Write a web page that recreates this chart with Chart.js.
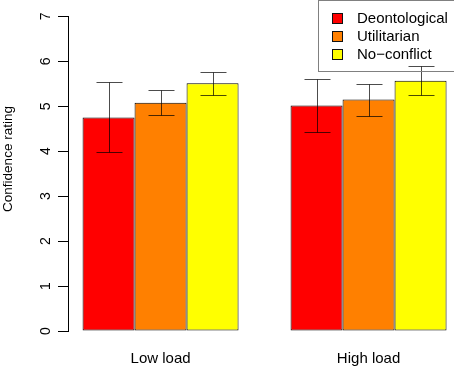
<!DOCTYPE html>
<html>
<head>
<meta charset="utf-8">
<script src="https://cdn.jsdelivr.net/npm/chart.js@4.4.1/dist/chart.umd.min.js"></script>
<style>
html,body{margin:0;padding:0;background:#fff;overflow:hidden}
#wrap{width:454px;height:367px;position:relative}
</style>
</head>
<body>
<div id="wrap"><canvas id="c" width="454" height="367"></canvas></div>
<script>
// ---- data ----
const categories = ['Low load', 'High load'];
const seriesNames = ['Deontological', 'Utilitarian', 'No\u2212conflict'];
const deontological = [4.75, 5.02];
const utilitarian = [5.08, 5.15];
const noConflict = [5.51, 5.57];
const deontologicalLow = [3.98, 4.42];
const deontologicalHigh = [5.54, 5.60];
const utilitarianLow = [4.80, 4.79];
const utilitarianHigh = [5.36, 5.50];
const noConflictLow = [5.26, 5.24];
const noConflictHigh = [5.76, 5.90];
const yTicks = [0, 1, 2, 3, 4, 5, 6, 7];
const yTitle = 'Confidence rating';

// ---- presentation ----
const FONT = '"Liberation Sans", Arial, Helvetica, sans-serif';
const colors = ['#ff0000', '#ff8000', '#ffff00'];
const values = [deontological, utilitarian, noConflict];
const lows = [deontologicalLow, utilitarianLow, noConflictLow];
const highs = [deontologicalHigh, utilitarianHigh, noConflictHigh];
// group centers in bar-width units (3 bars + 1 gap per group, R barplot style)
const centers = categories.map((c, i) => 2.5 + i * 4);
const xMin = 0.72, unitPx = 52, leftPx = 68;

const errorBars = {
  id: 'errorBars',
  afterDatasetsDraw(chart) {
    const ctx = chart.ctx, ys = chart.scales.y;
    ctx.save();
    ctx.strokeStyle = 'rgba(0,0,0,0.7)';
    ctx.lineWidth = 1;
    chart.data.datasets.forEach((ds, k) => {
      const meta = chart.getDatasetMeta(k);
      meta.data.forEach((bar, i) => {
        const x = Math.round(bar.x) + 0.5;
        const yl = Math.round(ys.getPixelForValue(lows[k][i])) + 0.5;
        const yh = Math.round(ys.getPixelForValue(highs[k][i])) + 0.5;
        const hw = bar.width / 4;
        ctx.beginPath();
        ctx.moveTo(x, yl); ctx.lineTo(x, yh);
        ctx.moveTo(x - hw, yl); ctx.lineTo(x + hw, yl);
        ctx.moveTo(x - hw, yh); ctx.lineTo(x + hw, yh);
        ctx.stroke();
      });
    });
    ctx.restore();
  }
};

const boxLegend = {
  id: 'boxLegend',
  afterDraw(chart) {
    const ctx = chart.ctx;
    ctx.save();
    ctx.strokeStyle = '#808080';
    ctx.lineWidth = 1;
    ctx.strokeRect(318.5, 0.5, 140, 71);
    ctx.font = '15px ' + FONT;
    ctx.textBaseline = 'middle';
    ctx.textAlign = 'left';
    chart.data.datasets.forEach((ds, k) => {
      const cy = 18 + k * 18;
      ctx.fillStyle = ds.backgroundColor;
      ctx.fillRect(332, cy - 5, 10, 10);
      ctx.strokeStyle = '#111';
      ctx.strokeRect(332.5, cy - 4.5, 10, 10);
      ctx.fillStyle = '#000';
      ctx.fillText(ds.label, 357, cy + 1);
    });
    ctx.restore();
  }
};

const yTitlePlugin = {
  id: 'yTitle',
  afterDraw(chart) {
    const ctx = chart.ctx;
    ctx.save();
    ctx.translate(8, 159);
    ctx.rotate(-Math.PI / 2);
    ctx.font = '13.5px ' + FONT;
    ctx.fillStyle = '#000';
    ctx.textAlign = 'center';
    ctx.textBaseline = 'middle';
    ctx.fillText(yTitle, 0, 0);
    ctx.restore();
  }
};

new Chart(document.getElementById('c'), {
  type: 'bar',
  data: {
    datasets: values.map((v, k) => ({
      label: seriesNames[k],
      data: v.map((y, i) => ({ x: centers[i], y })),
      backgroundColor: colors[k],
      borderColor: '#000',
      borderWidth: 1,
      borderSkipped: false,
      categoryPercentage: 0.75,
      barPercentage: 1
    }))
  },
  options: {
    responsive: false,
    animation: false,
    events: [],
    layout: { padding: { top: 15, left: 0, right: 0, bottom: 0 } },
    plugins: { legend: { display: false }, tooltip: { enabled: false }, title: { display: false } },
    scales: {
      x: {
        type: 'linear',
        offset: false,
        min: xMin,
        max: xMin + (454 - leftPx) / unitPx,
        afterBuildTicks: (s) => { s.ticks = centers.map(v => ({ value: v })); },
        afterFit: (s) => { s.height = 36; },
        ticks: {
          callback: (v, i) => categories[i],
          autoSkip: false, maxRotation: 0, minRotation: 0,
          color: '#000', font: { family: FONT, size: 15 }, padding: 11
        },
        grid: { display: false, offset: false },
        border: { display: false }
      },
      y: {
        min: 0, max: 7,
        afterBuildTicks: (s) => { s.ticks = yTicks.map(v => ({ value: v })); },
        afterFit: (s) => { s.width = leftPx; },
        ticks: {
          color: '#000', font: { family: FONT, size: 14 },
          minRotation: 90, maxRotation: 90, crossAlign: 'center', padding: 8
        },
        grid: { display: true, drawOnChartArea: false, drawTicks: true, tickLength: 10, color: '#000', lineWidth: 1 },
        border: { display: true, color: '#000', width: 1 },
        title: { display: false }
      }
    }
  },
  plugins: [errorBars, boxLegend, yTitlePlugin]
});
</script>
</body>
</html>
